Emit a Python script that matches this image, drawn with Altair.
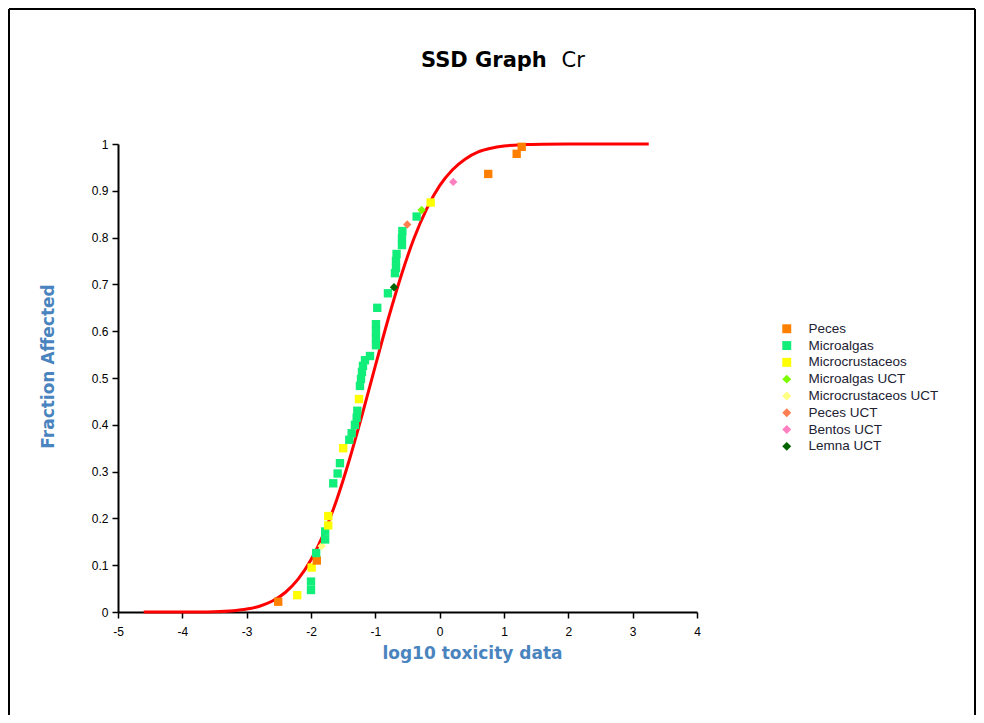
import altair as alt
import pandas as pd

# ---------------- data ----------------
series_names = ["Peces", "Microalgas", "Microcrustaceos", "Microalgas UCT",
                "Microcrustaceos UCT", "Peces UCT", "Bentos UCT", "Lemna UCT"]
series_colors = ["#FF8000", "#12EE7A", "#FFFF00", "#7CFC00",
                 "#FFFF80", "#FF7F50", "#FF80C0", "#006400"]
series_shapes = ["square", "square", "square", "diamond",
                 "diamond", "diamond", "diamond", "diamond"]

peces_x = [-2.51, -1.91, 0.755, 1.197, 1.275]
peces_y = [0.022, 0.110, 0.936, 0.979, 0.994]

microalgas_x = [-2.00, -2.00, -1.92, -1.78, -1.78, -1.654, -1.586, -1.55, -1.405,
                -1.368, -1.317, -1.29, -1.28, -1.239, -1.223, -1.208, -1.192,
                -1.161, -1.083, -0.99, -0.99, -0.99, -0.99, -0.97, -0.804,
                -0.695, -0.679, -0.679, -0.67, -0.586, -0.586, -0.58, -0.358]
microalgas_y = [0.047, 0.065, 0.126, 0.155, 0.172, 0.275, 0.296, 0.318, 0.368,
                0.382, 0.400, 0.415, 0.430, 0.483, 0.498, 0.513, 0.526,
                0.538, 0.547, 0.570, 0.585, 0.600, 0.615, 0.650, 0.681,
                0.724, 0.735, 0.750, 0.765, 0.784, 0.799, 0.814, 0.845]

microcrust_x = [-2.214, -1.99, -1.732, -1.732, -1.499, -1.254, -0.14]
microcrust_y = [0.036, 0.095, 0.185, 0.205, 0.350, 0.455, 0.875]

microalgas_uct_x = [-0.28]
microalgas_uct_y = [0.859]
microcrust_uct_x = [-1.834]
microcrust_uct_y = [0.141]
peces_uct_x = [-0.504]
peces_uct_y = [0.828]
bentos_uct_x = [0.211]
bentos_uct_y = [0.919]
lemna_uct_x = [-0.71]
lemna_uct_y = [0.694]

# fitted SSD curve
curve_x = [-4.6, -4.0, -3.5, -3.2, -3.0, -2.8, -2.6, -2.4, -2.2, -2.0, -1.8, -1.6,
           -1.4, -1.2, -1.0, -0.8, -0.6, -0.4, -0.2, 0.0, 0.2, 0.4, 0.6, 0.8,
           1.0, 1.3, 1.6, 2.0, 2.5, 3.25]
curve_y = [0.0, 0.0001, 0.0008, 0.0029, 0.0062, 0.0124, 0.0235, 0.0417, 0.0702,
           0.1116, 0.168, 0.240, 0.327, 0.424, 0.526, 0.626, 0.718, 0.798, 0.862,
           0.911, 0.945, 0.968, 0.983, 0.991, 0.9957, 0.9987, 0.9997, 1.0, 1.0, 1.0]

x_tick_values = [-5, -4.5, -4, -3.5, -3, -2.5, -2, -1.5, -1, -0.5, 0, 0.5, 1, 1.5,
                 2, 2.5, 3, 3.5, 4]
y_tick_values = [0, 0.05, 0.1, 0.15, 0.2, 0.25, 0.3, 0.35, 0.4, 0.45, 0.5, 0.55,
                 0.6, 0.65, 0.7, 0.75, 0.8, 0.85, 0.9, 0.95, 1]

# ---------------- build tables ----------------
groups = [
    ("Peces", peces_x, peces_y),
    ("Microalgas", microalgas_x, microalgas_y),
    ("Microcrustaceos", microcrust_x, microcrust_y),
    ("Microalgas UCT", microalgas_uct_x, microalgas_uct_y),
    ("Microcrustaceos UCT", microcrust_uct_x, microcrust_uct_y),
    ("Peces UCT", peces_uct_x, peces_uct_y),
    ("Bentos UCT", bentos_uct_x, bentos_uct_y),
    ("Lemna UCT", lemna_uct_x, lemna_uct_y),
]
rows = []
for name, xs, ys in groups:
    for xv, yv in zip(xs, ys):
        rows.append({"serie": name, "x": xv, "y": yv})
points_df = pd.DataFrame(rows)
curve_df = pd.DataFrame({"x": curve_x, "y": curve_y})
one_df = pd.DataFrame({"k": [0]})

W, H = 579, 468
PAD = {"left": 110, "top": 136, "right": 279, "bottom": 103}
TITLE_BLUE = "#4A84BE"

x_scale = alt.Scale(domain=[-5, 4], nice=False, zero=False)
y_scale = alt.Scale(domain=[0, 1], nice=False, zero=False)

x_axis = alt.Axis(
    values=x_tick_values,
    labelExpr="datum.value % 1 === 0 ? '' + datum.value : ''",
    grid=False, domainColor="black", domainWidth=2, tickColor="black",
    tickWidth=1.5, tickSize=6, labelColor="black", labelFontSize=12,
    labelFont="Liberation Sans", labelPadding=8, labelFlush=False,
    title="log10 toxicity data", titleColor=TITLE_BLUE, titleFont="DejaVu Sans",
    titleFontSize=17, titleFontWeight="bold", titleX=354, titleY=41,
    titleAlign="center", titleBaseline="middle",
)
y_axis = alt.Axis(
    values=y_tick_values,
    labelExpr="round(datum.value * 100) % 10 === 0 ? '' + datum.value : ''",
    grid=False, domainColor="black", domainWidth=2, tickColor="black",
    tickWidth=1.5, tickSize=6, labelColor="black", labelFontSize=12,
    labelFont="Liberation Sans", labelPadding=4, labelFlush=False,
    title="Fraction Affected", titleColor=TITLE_BLUE, titleFont="DejaVu Sans",
    titleFontSize=17, titleFontWeight="bold", titleX=-70, titleY=222,
    titleAngle=270, titleAlign="center", titleBaseline="middle",
)

legend = alt.Legend(
    title=None, orient="none", legendX=662, legendY=178,
    labelFont="Liberation Sans", labelFontSize=13.5, labelColor="#222233",
    symbolSize=80, symbolStrokeWidth=0, rowPadding=1.8, labelOffset=15,
)

curve = alt.Chart(curve_df).mark_line(color="#FF0000", strokeWidth=3,
                                      interpolate="monotone").encode(
    x=alt.X("x:Q", scale=x_scale, axis=x_axis),
    y=alt.Y("y:Q", scale=y_scale, axis=y_axis),
)

points = alt.Chart(points_df).mark_point(filled=True, opacity=1, size=70,
                                         strokeWidth=0).encode(
    x=alt.X("x:Q", scale=x_scale),
    y=alt.Y("y:Q", scale=y_scale),
    color=alt.Color("serie:N", scale=alt.Scale(domain=series_names, range=series_colors),
                    legend=legend),
    shape=alt.Shape("serie:N", scale=alt.Scale(domain=series_names, range=series_shapes),
                    legend=legend),
    order=alt.Order("y:Q"),
)

title1 = alt.Chart(one_df).mark_text(
    text="SSD Graph", font="DejaVu Sans", fontSize=21, fontWeight="bold",
    align="left", baseline="alphabetic", color="black"
).encode(x=alt.value(303), y=alt.value(-77))
title2 = alt.Chart(one_df).mark_text(
    text="Cr", font="DejaVu Sans", fontSize=21, fontWeight="normal",
    align="left", baseline="alphabetic", color="black"
).encode(x=alt.value(443.5), y=alt.value(-77))

frame_left = alt.Chart(one_df).mark_rule(color="black", strokeWidth=2).encode(
    x=alt.value(-109), y=alt.value(-135), y2=alt.value(571))
frame_top = alt.Chart(one_df).mark_rule(color="black", strokeWidth=2).encode(
    x=alt.value(-109), x2=alt.value(857), y=alt.value(-135))
frame_right = alt.Chart(one_df).mark_rule(color="black", strokeWidth=2).encode(
    x=alt.value(857), y=alt.value(-135), y2=alt.value(571))

chart = alt.layer(
    frame_left, frame_top, frame_right, curve, points, title1, title2
).properties(
    width=W, height=H,
    autosize=alt.AutoSizeParams(type="none"),
    padding=PAD,
    background="white",
).configure_view(stroke="transparent")

chart.save("out.html", embed_options={"renderer": "svg", "actions": False})
